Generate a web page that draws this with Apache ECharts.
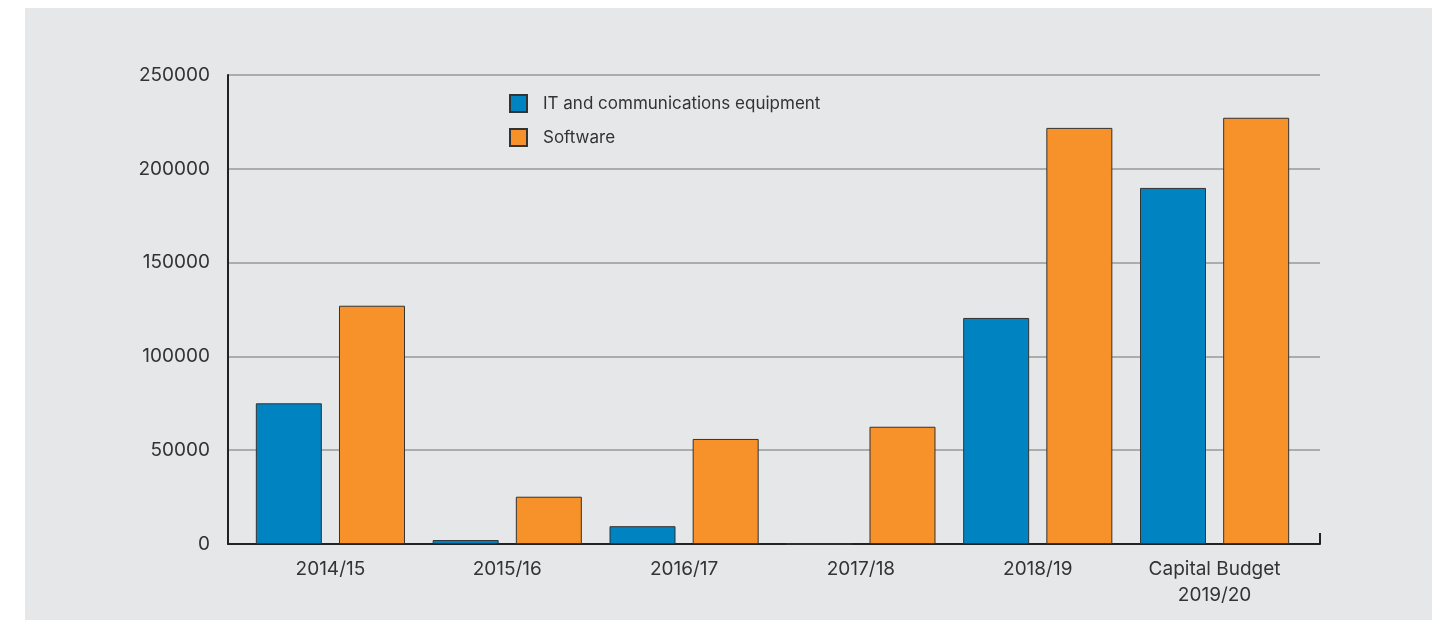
<!DOCTYPE html>
<html>
<head>
<meta charset="utf-8">
<script src="https://cdn.jsdelivr.net/npm/echarts@6/dist/echarts.min.js"></script>
<style>
html,body{margin:0;padding:0;background:#fff;}
#panel{position:absolute;left:25px;top:8px;width:1407px;height:612px;background:#e6e7e9;}
#chart{position:absolute;left:0;top:0;width:1442px;height:620px;}
</style>
</head>
<body>
<div id="panel"></div>
<div id="chart"></div>
<script>
const categories = ['2014/15', '2015/16', '2016/17', '2017/18', '2018/19', 'Capital Budget\n2019/20'];
const itEquipment = [75000, 2100, 9500, 0, 120500, 189800];
const software = [127000, 25200, 56000, 62500, 221800, 227200];
const yTicks = { min: 0, max: 250000, interval: 50000 };

const FONT = 'Inter, "Noto Sans", sans-serif';
const chart = echarts.init(document.getElementById('chart'));
chart.setOption({
  backgroundColor: 'transparent',
  animation: false,
  textStyle: { fontFamily: FONT },
  legend: {
    orient: 'vertical',
    left: 504, top: 89,
    icon: 'rect',
    itemWidth: 17, itemHeight: 17, itemGap: 15,
    textStyle: { fontSize: 17, color: '#333', fontFamily: FONT, padding: [0, 0, 0, 11] },
    data: ['IT and communications equipment', 'Software']
  },
  grid: [
    { left: 228, right: 122, top: 75, bottom: 76 },
    { left: 242, right: 139, top: 75, bottom: 76 }
  ],
  xAxis: [
    { type: 'value', gridIndex: 0, min: 0, max: 1, interval: 1,
      axisLine: { show: true, lineStyle: { color: '#222', width: 2 } },
      axisTick: { show: true, inside: true, length: 11, lineStyle: { color: '#222', width: 2 } },
      axisLabel: { show: false }, splitLine: { show: false } },
    { type: 'category', gridIndex: 1, data: categories,
      axisLine: { show: false }, axisTick: { show: false },
      axisLabel: { fontSize: 19, color: '#333', margin: 12, lineHeight: 26, fontFamily: FONT } }
  ],
  yAxis: [
    { type: 'value', gridIndex: 0, min: yTicks.min, max: yTicks.max, interval: yTicks.interval,
      axisLine: { show: true, lineStyle: { color: '#222', width: 2 } },
      axisTick: { show: false },
      axisLabel: { fontSize: 19, color: '#333', margin: 18, fontFamily: FONT, formatter: v => String(v) },
      splitLine: { show: true, lineStyle: { color: '#999', width: 1.5 } } },
    { type: 'value', gridIndex: 1, min: yTicks.min, max: yTicks.max, interval: yTicks.interval, show: false,
      splitLine: { show: false } }
  ],
  series: [
    { name: 'IT and communications equipment', type: 'bar', xAxisIndex: 1, yAxisIndex: 1,
      data: itEquipment, barWidth: 66, barGap: '26%',
      itemStyle: { color: '#0083c1', borderColor: '#333', borderWidth: 1 } },
    { name: 'Software', type: 'bar', xAxisIndex: 1, yAxisIndex: 1,
      data: software, barWidth: 66, barGap: '26%',
      itemStyle: { color: '#f7912a', borderColor: '#333', borderWidth: 1 } }
  ]
});
</script>
</body>
</html>
